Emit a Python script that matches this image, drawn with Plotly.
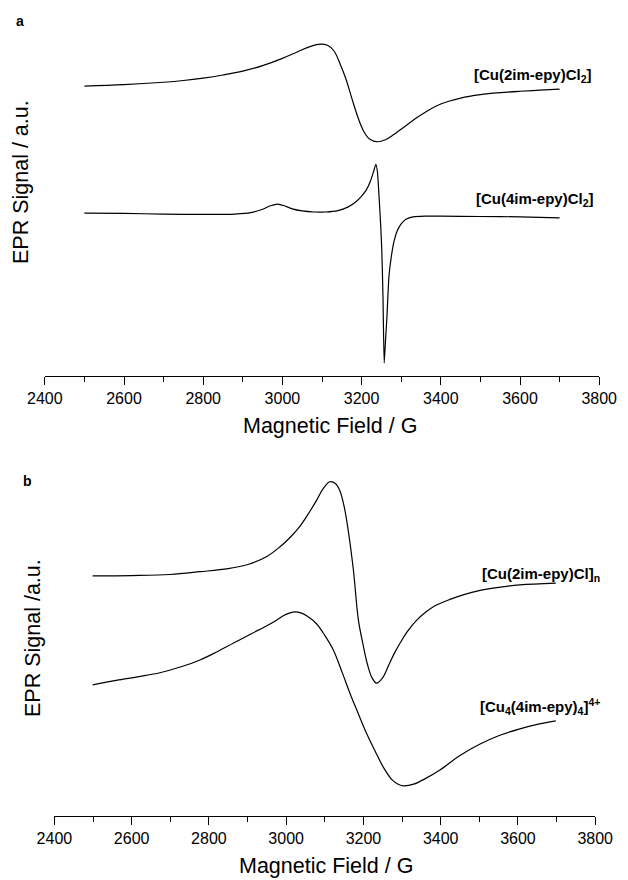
import plotly.graph_objects as go

# ---- Panel a data (Magnetic field / G, EPR signal / a.u.) ----
field_a1 = [2500, 2600, 2700, 2750, 2800, 2850, 2900, 2950, 3000, 3040, 3070, 3096, 3115, 3130,
            3145, 3160, 3175, 3190, 3205, 3220, 3241, 3260, 3280, 3310, 3340, 3370, 3400, 3450,
            3500, 3550, 3600, 3650, 3700]
signal_a1 = [8.38, 8.42, 8.49, 8.54, 8.61, 8.70, 8.81, 8.97, 9.18, 9.38, 9.52, 9.59, 9.55, 9.40,
             9.04, 8.60, 8.04, 7.50, 7.08, 6.85, 6.77, 6.83, 6.97, 7.22, 7.47, 7.69, 7.86, 8.03,
             8.13, 8.19, 8.23, 8.26, 8.29]

field_a2 = [2500, 2600, 2700, 2800, 2880, 2920, 2950, 2970, 2988, 3005, 3025, 3050, 3080, 3110,
            3140, 3165, 3185, 3200, 3212, 3222, 3230, 3236, 3240, 3244, 3248, 3251, 3254, 3257,
            3260, 3264, 3269, 3275, 3282, 3290, 3300, 3312, 3330, 3360, 3400, 3500, 3600, 3700]
signal_a2 = [4.71, 4.70, 4.68, 4.67, 4.68, 4.72, 4.82, 4.92, 4.97, 4.92, 4.83, 4.77, 4.74, 4.74,
             4.78, 4.88, 5.03, 5.20, 5.38, 5.62, 5.90, 6.12, 5.90, 5.20, 4.40, 3.64, 2.30, 0.37,
             0.95, 1.71, 2.87, 3.45, 3.90, 4.20, 4.40, 4.53, 4.60, 4.62, 4.62, 4.61, 4.60, 4.57]

# ---- Panel b data ----
field_b1 = [2499, 2600, 2700, 2777, 2850, 2901, 2950, 2984, 3010, 3036, 3060, 3079, 3095, 3113,
            3128, 3139, 3150, 3160, 3174, 3187, 3200, 3210, 3222, 3234, 3250, 3265, 3280, 3295,
            3315, 3338, 3360, 3381, 3424, 3460, 3502, 3550, 3605, 3698]
signal_b1 = [6.94, 6.95, 6.98, 7.06, 7.15, 7.27, 7.50, 7.78, 8.05, 8.38, 8.78, 9.13, 9.45, 9.66,
             9.60, 9.40, 8.95, 8.30, 7.11, 5.66, 4.90, 4.40, 4.00, 3.84, 4.00, 4.35, 4.70, 5.00,
             5.35, 5.66, 5.88, 6.05, 6.26, 6.40, 6.52, 6.61, 6.68, 6.73]

field_b2 = [2499, 2560, 2620, 2673, 2730, 2777, 2820, 2864, 2910, 2950, 2975, 2995, 3010, 3023,
            3038, 3055, 3079, 3100, 3122, 3145, 3165, 3187, 3208, 3230, 3251, 3273, 3290, 3305,
            3330, 3360, 3398, 3450, 3502, 3550, 3605, 3650, 3698]
signal_b2 = [3.79, 3.92, 4.03, 4.14, 4.32, 4.51, 4.74, 5.00, 5.27, 5.50, 5.66, 5.80, 5.87, 5.90,
             5.87, 5.77, 5.55, 5.22, 4.80, 4.15, 3.55, 2.95, 2.39, 1.88, 1.42, 1.06, 0.92, 0.87,
             0.92, 1.08, 1.33, 1.75, 2.08, 2.32, 2.52, 2.65, 2.75]

x_range = [2400, 3800]
x_ticks = [2400, 2600, 2800, 3000, 3200, 3400, 3600, 3800]
x_ticklabels = ["2400", "2600", "2800", "3000", "3200", "3400", "3600", "3800"]

labels_a = ["[Cu(2im-epy)Cl<sub>2</sub>]", "[Cu(4im-epy)Cl<sub>2</sub>]"]
labels_b = ["[Cu(2im-epy)Cl]<sub>n</sub>", "[Cu<sub>4</sub>(4im-epy)<sub>4</sub>]<sup>4+</sup>"]

W, H = 628, 880
OFF = 8  # page body margin offset
FONT = "Liberation Sans, Arial, sans-serif"
NARROW = "Liberation Sans Narrow, Arial Narrow, Liberation Sans, Arial, sans-serif"

fig = go.Figure()
smooth = dict(color="black", width=1.2, shape="spline", smoothing=1.0)
sharp = dict(color="black", width=1.2, shape="spline", smoothing=0.5)
fig.add_trace(go.Scatter(x=field_a1, y=signal_a1, mode="lines", line=smooth, xaxis="x", yaxis="y"))
fig.add_trace(go.Scatter(x=field_a2, y=signal_a2, mode="lines", line=sharp, xaxis="x", yaxis="y"))
fig.add_trace(go.Scatter(x=field_b1, y=signal_b1, mode="lines", line=smooth, xaxis="x2", yaxis="y2"))
fig.add_trace(go.Scatter(x=field_b2, y=signal_b2, mode="lines", line=smooth, xaxis="x2", yaxis="y2"))

def px_x(p):
    return (p - OFF) / W

def px_y(p):
    return 1 - (p - OFF) / H

xa = dict(range=x_range, tickvals=x_ticks, ticktext=x_ticklabels, showline=True, linecolor="black",
          linewidth=1.3, ticks="outside", ticklen=8, tickwidth=1.3, tickcolor="black", automargin=False,
          showgrid=False, zeroline=False, tickfont=dict(family=FONT, size=16, color="black"),
          minor=dict(dtick=100, tick0=2400, ticks="outside", ticklen=5, tickwidth=1.3, tickcolor="black", showgrid=False),
          fixedrange=True)
ya = dict(range=[0, 10], visible=False, fixedrange=True, automargin=False)

fig.update_layout(
    width=W, height=H, margin=dict(l=0, r=0, t=0, b=0, pad=0, autoexpand=False),
    paper_bgcolor="white", plot_bgcolor="white", showlegend=False,
    xaxis=dict(xa, domain=[px_x(44.8), px_x(599.2)], anchor="y"),
    yaxis=dict(ya, domain=[px_y(376), px_y(30)], anchor="x"),
    xaxis2=dict(xa, domain=[px_x(54.4), px_x(595.2)], anchor="y2"),
    yaxis2=dict(ya, domain=[px_y(816), px_y(470)], anchor="x2"),
)

ann = []
def txt(x, y, text, size, xanchor="center", family=FONT, bold=False, angle=0):
    ann.append(dict(x=px_x(x), y=px_y(y), xref="paper", yref="paper", text=("<b>%s</b>" % text) if bold else text,
                    showarrow=False, xanchor=xanchor, yanchor="middle", textangle=angle,
                    font=dict(family=family, size=size, color="black")))

txt(19.5, 21, "a", 14, bold=True)
txt(27.7, 481, "b", 14, bold=True)
txt(330, 426, "Magnetic Field / G", 21.5)
txt(326, 866, "Magnetic Field / G", 21.5)
txt(21, 182, "EPR Signal / a.u.", 21.5, angle=-90)
txt(33, 638, "EPR Signal /a.u.", 21.5, angle=-90)
txt(594, 75, labels_a[0], 15, xanchor="right", family=NARROW, bold=True)
txt(596, 200, labels_a[1], 15, xanchor="right", family=NARROW, bold=True)
txt(602, 574, labels_b[0], 15, xanchor="right", family=NARROW, bold=True)
txt(602, 706, labels_b[1], 15, xanchor="right", family=NARROW, bold=True)
fig.update_layout(annotations=ann)

fig.write_html("out.html")
